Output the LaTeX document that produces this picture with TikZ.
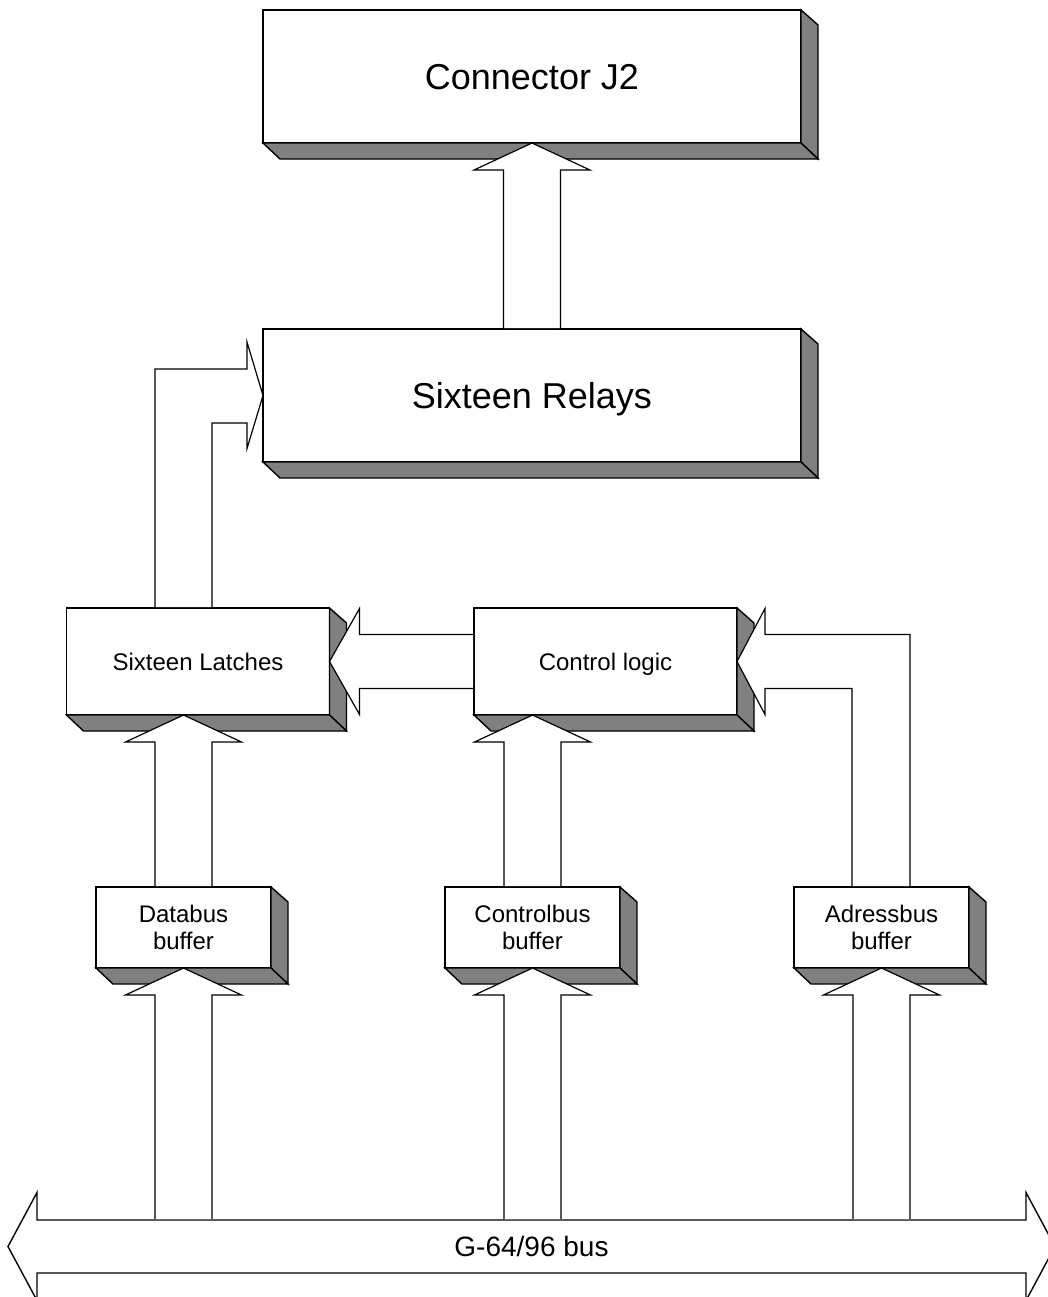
\documentclass[tikz,border=0pt]{standalone}
\usepackage{fontspec}
\setmainfont{Liberation Sans}
\usetikzlibrary{calc}

% grey side and bottom faces of a block
\newcommand{\boxshade}[1]{%
  \filldraw[shadowface] let \p1=(#1.north east), \p2=(#1.south east) in
    (\p1) -- (\x1+8.5pt,\y1-7.5pt) -- (\x2+8.5pt,\y2-8pt) -- (\p2) -- cycle;
  \filldraw[shadowface] let \p1=(#1.south west), \p2=(#1.south east) in
    (\p1) -- (\x1+8.5pt,\y1-8pt) -- (\x2+8.5pt,\y2-8pt) -- (\p2) -- cycle;
}
% wide arrow pointing up, from #1 to #2
\newcommand{\fatup}[2]{%
  \filldraw[fatarrow] let \p1=(#1), \p2=(#2) in
    (\x1-14.25pt,\y1+0.4pt) -- (\x1-14.25pt,\y2-13.5pt) -- (\x1-29pt,\y2-13.5pt)
    -- (\x1,\y2) -- (\x1+29pt,\y2-13.5pt) -- (\x1+14.25pt,\y2-13.5pt)
    -- (\x1+14.25pt,\y1+0.4pt);
}

\begin{document}
\begin{tikzpicture}[x=0.5pt,y=-0.5pt,
    block/.style={draw,fill=white,line width=0.7pt,inner sep=0pt,outer sep=0pt,align=center},
    bigblock/.style={block,minimum width=269pt,minimum height=66.5pt,
        text height=12.9pt,text depth=0pt,font=\fontsize{18}{22}\selectfont},
    midblock/.style={block,minimum width=131.5pt,minimum height=53.5pt,
        text height=8.6pt,text depth=0pt,font=\fontsize{12}{14}\selectfont},
    bufblock/.style={block,minimum width=87.5pt,minimum height=40.5pt,font=\fontsize{12}{13.5}\selectfont},
    shadowface/.style={fill=black!50,draw=black,line width=0.7pt,line join=miter},
    fatarrow/.style={fill=white,draw=black,line width=0.6pt,line join=miter}]
    \useasboundingbox (0,0) rectangle (1048,1297);

    % blocks
    \node[bigblock] (j2) at (532,76.5) {Connector J2};
    \node[bigblock] (relays) at (532,395.5) {Sixteen Relays};
    \node[midblock] (latch) at (198,661.5) {Sixteen Latches};
    \node[midblock] (ctrl) at (605.5,661.5) {Control logic};
    \node[bufblock] (dbuf) at (183.5,927.5) {Databus\\buffer};
    \node[bufblock] (cbuf) at (532.5,927.5) {Controlbus\\buffer};
    \node[bufblock] (abuf) at (881.5,927.5) {Adressbus\\buffer};
    \foreach \b in {j2,relays,latch,ctrl,dbuf,cbuf,abuf} {\boxshade{\b}}

    % the bus
    \node[inner sep=0pt,outer sep=0pt,minimum width=494.5pt,minimum height=26.5pt,
          font=\fontsize{14}{16}\selectfont] (bus) at (531.5,1246.5) {G-64/96 bus};
    \draw[line width=0.7pt,line join=miter] let \p1=(bus.west), \p2=(bus.east) in
      (bus.north west) -- (bus.north east) -- (\x2,\y2+27pt) -- (\x2+14.5pt,\y2)
      -- (\x2,\y2-27pt) -- (bus.south east) -- (bus.south west) -- (\x1,\y1-27pt)
      -- (\x1-14.5pt,\y1) -- (\x1,\y1+27pt) -- cycle;

    % arrows up
    \fatup{relays.north}{j2.south}
    \fatup{dbuf.north}{dbuf |- latch.south}
    \fatup{cbuf.north}{cbuf |- ctrl.south}
    \fatup{dbuf |- bus.north}{dbuf.south}
    \fatup{cbuf |- bus.north}{cbuf.south}
    \fatup{abuf |- bus.north}{abuf.south}

    % control logic to latches
    \filldraw[fatarrow] let \p1=(ctrl.west), \p2=(latch.east) in
      (\x1-0.4pt,\y1+13.5pt) -- (\x2+15pt,\y1+13.5pt) -- (\x2+15pt,\y2+26.5pt) -- (\p2)
      -- (\x2+15pt,\y2-26.5pt) -- (\x2+15pt,\y1-13.5pt) -- (\x1-0.4pt,\y1-13.5pt);
    % latches to relays
    \filldraw[fatarrow] let \p1=(dbuf |- latch.north), \p2=(relays.west) in
      (\x1-14.25pt,\y1+0.4pt) |- (\x2-8pt,\y2+13.25pt) -- (\x2-8pt,\y2+26.75pt) -- (\p2)
      -- (\x2-8pt,\y2-26.5pt) -- (\x2-8pt,\y2-13.75pt) -| (\x1+14.25pt,\y1+0.4pt);
    % adressbus buffer to control logic
    \filldraw[fatarrow] let \p1=(abuf.north), \p2=(ctrl.east) in
      (\x1-14.75pt,\y1+0.4pt) |- (\x2+14pt,\y2-13.5pt) -- (\x2+14pt,\y2-26.5pt) -- (\p2)
      -- (\x2+14pt,\y2+26.5pt) -- (\x2+14pt,\y2+13.5pt) -| (\x1+14.25pt,\y1+0.4pt);
\end{tikzpicture}
\end{document}
